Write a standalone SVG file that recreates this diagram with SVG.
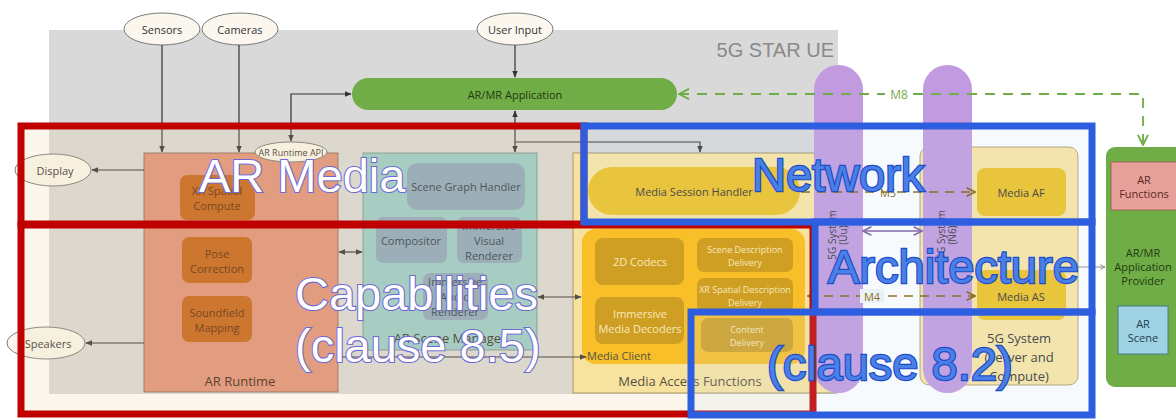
<svg xmlns="http://www.w3.org/2000/svg" width="1176" height="419" viewBox="0 0 1176 419">
<defs>
<style>
.t{font-family:"Open Sans","Liberation Sans",sans-serif;fill:#333;text-anchor:middle;dominant-baseline:central}
.s9{font-size:9px}.s10{font-size:10px}.s11{font-size:11px}.s12{font-size:12px}.s13{font-size:13px}
.ell{fill:#fbf7ef;stroke:#7a7a7a;stroke-width:1}
.ln{fill:none;stroke:#333;stroke-width:1.2}
.orange{fill:#c5621a}
.ot{fill:#5e2a08}
.slate{fill:#8aa6bf}
.st{fill:#2c3c4e}
.dg{fill:#c8940c}
.dgt{fill:#fbeec2}
.gold{fill:#efc020}
.pill{fill:#c29ae0}
.big{font-family:"Liberation Sans",Arial,sans-serif;font-size:47px;paint-order:stroke}
.bw{fill:#ffffff;stroke:#6d6ad6;stroke-width:2.2}
.bb{fill:#4a80e6;stroke:#1d4cc6;stroke-width:2.4}
.redb{fill:rgba(240,208,152,0.18);stroke:#c00000;stroke-width:7}
.blueb{fill:rgba(200,223,240,0.14);stroke:#2d5ee0;stroke-width:7}
</style>
<marker id="ah" viewBox="0 0 10 10" refX="9" refY="5" markerWidth="6" markerHeight="6" orient="auto-start-reverse"><path d="M0,1 L10,5 L0,9 z" fill="#333"/></marker>
<marker id="ao" viewBox="0 0 10 10" refX="9" refY="5" markerWidth="7" markerHeight="7" orient="auto-start-reverse"><path d="M1,1 L9,5 L1,9" fill="none" stroke="#7f6000" stroke-width="1.5"/></marker>
<marker id="ag" viewBox="0 0 10 10" refX="9" refY="5" markerWidth="7" markerHeight="7" orient="auto-start-reverse"><path d="M1,1 L9,5 L1,9" fill="none" stroke="#70ad47" stroke-width="1.5"/></marker>
<marker id="ap" viewBox="0 0 10 10" refX="9" refY="5" markerWidth="7" markerHeight="7" orient="auto-start-reverse"><path d="M1,1 L9,5 L1,9" fill="none" stroke="#7a5aa0" stroke-width="1.5"/></marker>
<marker id="agr" viewBox="0 0 10 10" refX="9" refY="5" markerWidth="6" markerHeight="6" orient="auto"><path d="M1,1 L9,5 L1,9" fill="none" stroke="#8a8a8a" stroke-width="1.5"/></marker>
</defs>
<rect width="1176" height="419" fill="#ffffff"/>

<g id="ue">
<rect x="49" y="30" width="789" height="364" fill="#d9d9d9"/>
<text x="834" y="50" class="t" style="font-family:'Liberation Sans',sans-serif;font-size:20px;fill:#8a8a8a;text-anchor:end">5G STAR UE</text>
</g>

<g id="sensors"><ellipse cx="162" cy="29" rx="38" ry="16" class="ell"/><text x="162" y="29" class="t s11">Sensors</text></g>
<g id="cameras"><ellipse cx="240" cy="29" rx="38" ry="16" class="ell"/><text x="240" y="29" class="t s11">Cameras</text></g>
<g id="userinput"><ellipse cx="515" cy="29" rx="38" ry="16" class="ell"/><text x="515" y="29" class="t s11">User Input</text></g>

<g id="app"><rect x="352" y="78" width="325" height="32" rx="16" fill="#70ad47"/><text x="515" y="94" class="t s11" style="fill:#1f3a10">AR/MR Application</text></g>

<g id="display"><ellipse cx="53" cy="170" rx="38" ry="16" class="ell"/><text x="55" y="170" class="t s11">Display</text></g>
<g id="speakers"><ellipse cx="46" cy="343" rx="39" ry="16" class="ell"/><text x="48" y="343" class="t s11">Speakers</text></g>

<g id="arruntime">
<rect x="144" y="153" width="194" height="239" fill="#e0917a" stroke="#7a5a50" stroke-width="0.8"/>
<text x="240" y="381" class="t s13" style="fill:#3a2218">AR Runtime</text>
<rect x="180" y="175" width="75" height="45" rx="7" class="orange"/>
<text x="217" y="190" class="t s11 ot">XR Spatial</text><text x="217" y="205" class="t s11 ot">Compute</text>
<rect x="182" y="237" width="70" height="46" rx="7" class="orange"/>
<text x="217" y="253" class="t s11 ot">Pose</text><text x="217" y="268" class="t s11 ot">Correction</text>
<rect x="182" y="296" width="70" height="46" rx="7" class="orange"/>
<text x="217" y="312" class="t s11 ot">Soundfield</text><text x="217" y="327" class="t s11 ot">Mapping</text>
</g>
<g id="api"><ellipse cx="291" cy="152" rx="36" ry="10" class="ell"/><text x="291" y="152" class="t s9">AR Runtime API</text></g>

<g id="scenemanager">
<rect x="363" y="153" width="174" height="197" fill="#98cccc" stroke="#6a8a8a" stroke-width="0.8"/>
<text x="450" y="338" class="t s13">AR Scene Manager</text>
<rect x="407" y="163" width="118" height="47" rx="10" class="slate"/>
<text x="466" y="186" class="t s11 st">Scene Graph Handler</text>
<rect x="376" y="217" width="71" height="46" rx="7" class="slate"/>
<text x="411" y="240" class="t s11 st">Compositor</text>
<rect x="457" y="217" width="65" height="46" rx="7" class="slate"/>
<text x="489" y="225" class="t s11 st">Immersive</text><text x="489" y="240" class="t s11 st">Visual</text><text x="489" y="255" class="t s11 st">Renderer</text>
<rect x="423" y="273" width="65" height="47" rx="7" class="slate"/>
<text x="455" y="281" class="t s11 st">Immersive</text><text x="455" y="296" class="t s11 st">Audio</text><text x="455" y="311" class="t s11 st">Renderer</text>
</g>

<g id="maf">
<rect x="573" y="153" width="262" height="240" fill="#fbe6a2" stroke="#8a7a50" stroke-width="0.8"/>
<text x="690" y="381" class="t s13">Media Access Functions</text>
</g>
<g id="msh"><rect x="588" y="167" width="212" height="48" rx="24" class="gold"/><text x="694" y="191" class="t s11">Media Session Handler</text></g>
<g id="mediaclient">
<rect x="582" y="229" width="223" height="135" rx="14" fill="#fbbb12"/>
<text x="587" y="355" class="t s11" style="text-anchor:start">Media Client</text>
<rect x="595" y="238" width="89" height="47" rx="8" class="dg"/>
<text x="640" y="261" class="t s11 dgt">2D Codecs</text>
<rect x="595" y="297" width="89" height="47" rx="8" class="dg"/>
<text x="640" y="313" class="t s11 dgt">Immersive</text><text x="640" y="328" class="t s11 dgt">Media Decoders</text>
<rect x="697" y="238" width="96" height="34" rx="7" class="dg"/>
<text x="745" y="249" class="t s9 dgt">Scene Description</text><text x="745" y="262" class="t s9 dgt">Delivery</text>
<rect x="697" y="278" width="96" height="34" rx="7" class="dg"/>
<text x="745" y="289" class="t s9 dgt">XR Spatial Description</text><text x="745" y="302" class="t s9 dgt">Delivery</text>
<rect x="701" y="318" width="92" height="34" rx="7" class="dg"/>
<text x="747" y="329" class="t s9 dgt">Content</text><text x="747" y="342" class="t s9 dgt">Delivery</text>
</g>

<g id="server">
<rect x="920" y="147" width="158" height="238" rx="9" fill="#fbe6a2" stroke="#9a8a60" stroke-width="0.8"/>
<text x="1019" y="338" class="t s13">5G System</text><text x="1019" y="357" class="t s13">(Server and</text><text x="1019" y="376" class="t s13">Compute)</text>
</g>
<g id="mediaaf"><rect x="977" y="168" width="89" height="48" rx="8" class="gold"/><text x="1021" y="192" class="t s11">Media AF</text></g>
<g id="mediaas"><rect x="977" y="270" width="89" height="50" rx="8" class="gold"/><text x="1021" y="296" class="t s11">Media AS</text></g>

<g id="pill-uu">
<rect x="814" y="65" width="49" height="328" rx="24.5" class="pill"/>
<text transform="translate(832,235) rotate(-90)" class="t s10">5G System</text>
<text transform="translate(843,235) rotate(-90)" class="t s10">(Uu)</text>
</g>
<g id="pill-n6">
<rect x="923" y="65" width="49" height="328" rx="24.5" class="pill"/>
<text transform="translate(941,235) rotate(-90)" class="t s10">5G System</text>
<text transform="translate(952,235) rotate(-90)" class="t s10">(N6)</text>
</g>

<g id="provider">
<rect x="1106" y="147" width="80" height="240" rx="9" fill="#70ad47"/>
<text x="1143" y="252" class="t s11" style="fill:#1f3a10">AR/MR</text><text x="1143" y="266" class="t s11" style="fill:#1f3a10">Application</text><text x="1143" y="280" class="t s11" style="fill:#1f3a10">Provider</text>
<rect x="1111" y="162" width="70" height="48" fill="#e6a099" stroke="#9a5a50" stroke-width="0.8"/>
<text x="1144" y="179" class="t s11" style="fill:#5a2a20">AR</text><text x="1144" y="193" class="t s11" style="fill:#5a2a20">Functions</text>
<rect x="1118" y="306" width="50" height="48" fill="#9fd3e3" stroke="#3e7f8c" stroke-width="1"/>
<text x="1143" y="323" class="t s11" style="fill:#1e4050">AR</text><text x="1143" y="337" class="t s11" style="fill:#1e4050">Scene</text>
</g>

<g id="connectors">
<line x1="162" y1="45" x2="162" y2="152" class="ln" marker-end="url(#ah)"/>
<line x1="239" y1="45" x2="239" y2="152" class="ln" marker-end="url(#ah)"/>
<line x1="515" y1="45" x2="515" y2="77" class="ln" marker-end="url(#ah)"/>
<path d="M291,141 V94 H351" class="ln" marker-start="url(#ah)" marker-end="url(#ah)"/>
<line x1="515" y1="111" x2="515" y2="152" class="ln" marker-start="url(#ah)" marker-end="url(#ah)"/>
<path d="M515,142 H700 V152" class="ln" marker-end="url(#ah)"/>
<line x1="144" y1="170" x2="92" y2="170" class="ln" marker-end="url(#ah)"/>
<line x1="144" y1="343" x2="86" y2="343" class="ln" marker-end="url(#ah)"/>
<line x1="339" y1="252" x2="362" y2="252" class="ln" marker-start="url(#ah)" marker-end="url(#ah)"/>
<line x1="538" y1="297" x2="581" y2="297" class="ln" marker-start="url(#ah)" marker-end="url(#ah)"/>
<line x1="338" y1="357" x2="586" y2="357" class="ln" marker-end="url(#ah)"/>
<line x1="801" y1="192" x2="975" y2="192" fill="none" stroke="#7f6000" stroke-width="1.5" stroke-dasharray="9,7" marker-end="url(#ao)"/>
<text x="888" y="192" class="t s11" style="fill:#7f6000">M5</text>
<line x1="808" y1="296" x2="975" y2="296" fill="none" stroke="#7f6000" stroke-width="1.5" stroke-dasharray="9,7" marker-start="url(#ao)" marker-end="url(#ao)"/>
<rect x="860" y="289" width="24" height="14" fill="#f2f6f9"/>
<text x="872" y="296" class="t s11" style="fill:#7f6000">M4</text>
<path d="M679,94 H1143 V145" fill="none" stroke="#70ad47" stroke-width="1.8" stroke-dasharray="10,8" marker-start="url(#ag)" marker-end="url(#ag)"/>
<rect x="885" y="86" width="28" height="16" fill="#ffffff"/>
<text x="899" y="94" class="t s12" style="fill:#70ad47">M8</text>
<line x1="863" y1="231" x2="922" y2="231" fill="none" stroke="#7a5aa0" stroke-width="1.5" marker-start="url(#ap)" marker-end="url(#ap)"/>
<line x1="1078" y1="267" x2="1105" y2="267" fill="none" stroke="#8a8a8a" stroke-width="1" marker-end="url(#agr)"/>
</g>

<g id="overlay-red">
<rect x="21" y="126" width="563" height="98" class="redb"/>
<rect x="21" y="225" width="792" height="189" class="redb"/>
</g>
<g id="overlay-blue">
<rect x="584" y="126" width="508" height="96" class="blueb"/>
<rect x="815" y="222" width="277" height="90" class="blueb"/>
<rect x="691" y="312" width="401" height="103" class="blueb"/>
</g>
<g id="overlay-text">
<text x="199" y="192" class="big bw">AR Media</text>
<text x="295" y="310" class="big bw">Capabilities</text>
<text x="295" y="362" class="big bw">(clause 8.5)</text>
<text x="752" y="191" class="big bb">Network</text>
<text x="828" y="283" class="big bb">Architecture</text>
<text x="767" y="380" class="big bb">(clause 8.2)</text>
</g>
</svg>
